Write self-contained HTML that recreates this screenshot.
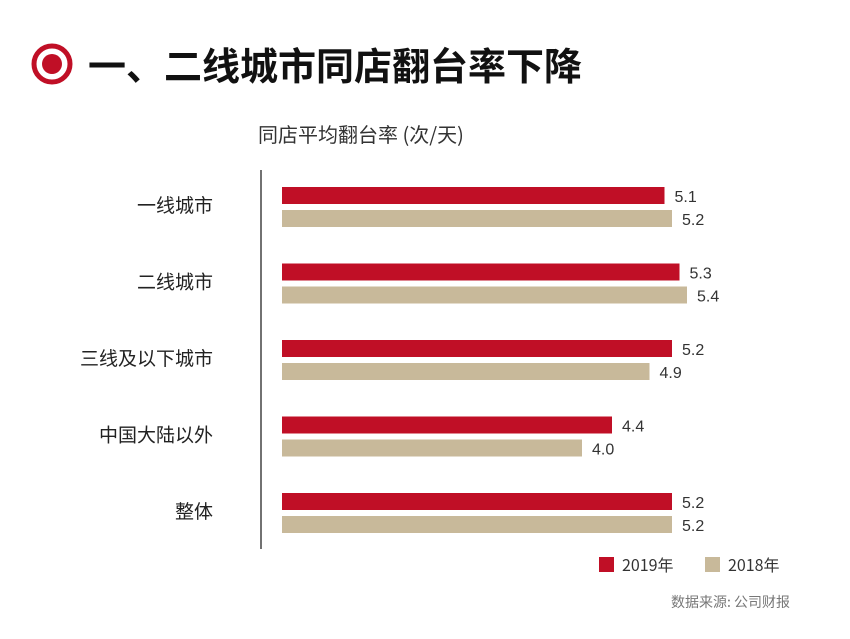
<!DOCTYPE html>
<html><head><meta charset="utf-8"><style>
body{margin:0;background:#fff;width:850px;height:634px;overflow:hidden;font-family:"Liberation Sans","Noto Sans CJK SC",sans-serif}
</style></head><body>
<svg width="850" height="634" xmlns="http://www.w3.org/2000/svg">
<g>
<circle cx="52" cy="64" r="18" fill="none" stroke="#c00f26" stroke-width="5"/>
<circle cx="52" cy="64" r="10" fill="#c00f26"/>
</g>
<text x="88" y="80" font-size="38" font-weight="bold" fill="#111" font-family="'Noto Sans CJK SC',sans-serif">一、二线城市同店翻台率下降</text>
<text x="258" y="142" font-size="20" fill="#333" font-family="'Noto Sans CJK SC',sans-serif">同店平均翻台率 (次/天)</text>
<line x1="261" y1="170" x2="261" y2="549" stroke="#444" stroke-width="1.5"/>
<g id="bars"></g>
<g>
<rect x="599" y="557" width="15" height="15" fill="#c00f26"/>
<text x="622" y="571" font-size="16" fill="#333" font-family="'Noto Sans CJK SC',sans-serif">2019年</text>
<rect x="705" y="557" width="15" height="15" fill="#c8b99a"/>
<text x="728" y="571" font-size="16" fill="#333" font-family="'Noto Sans CJK SC',sans-serif">2018年</text>
</g>
<text x="790" y="607" font-size="14" fill="#777" text-anchor="end" font-family="'Noto Sans CJK SC',sans-serif">数据来源: 公司财报</text>
</svg>
<script>
const categories=["一线城市","二线城市","三线及以下城市","中国大陆以外","整体"];
const values2019=[5.1,5.3,5.2,4.4,5.2];
const values2018=[5.2,5.4,4.9,4.0,5.2];
const NS="http://www.w3.org/2000/svg";
const x0=282,scale=75,top0=187,step=76.5,bh=17;
const xs=v=>v*scale;
const g=document.getElementById('bars');
function mk(tag,attrs,txt){const e=document.createElementNS(NS,tag);for(const k in attrs)e.setAttribute(k,attrs[k]);if(txt!=null)e.textContent=txt;g.appendChild(e);return e;}
categories.forEach((c,i)=>{
 const y=top0+i*step;
 const l=mk('text',{x:213,y:y+25,'font-size':19,fill:'#222','text-anchor':'end','font-family':"'Noto Sans CJK SC',sans-serif"},c);
 
 
 [[values2019[i],'#c00f26',0,'2019'],[values2018[i],'#c8b99a',23,'2018']].forEach(([v,col,off,yr])=>{
  const r=mk('rect',{x:x0,y:y+off,width:xs(v),height:bh,fill:col});
  
  
  const t=mk('text',{x:x0+xs(v)+10,y:y+off+15,'font-size':16,fill:'#333'},v.toFixed(1));
  
  
 });
});
</script>
</body></html>
